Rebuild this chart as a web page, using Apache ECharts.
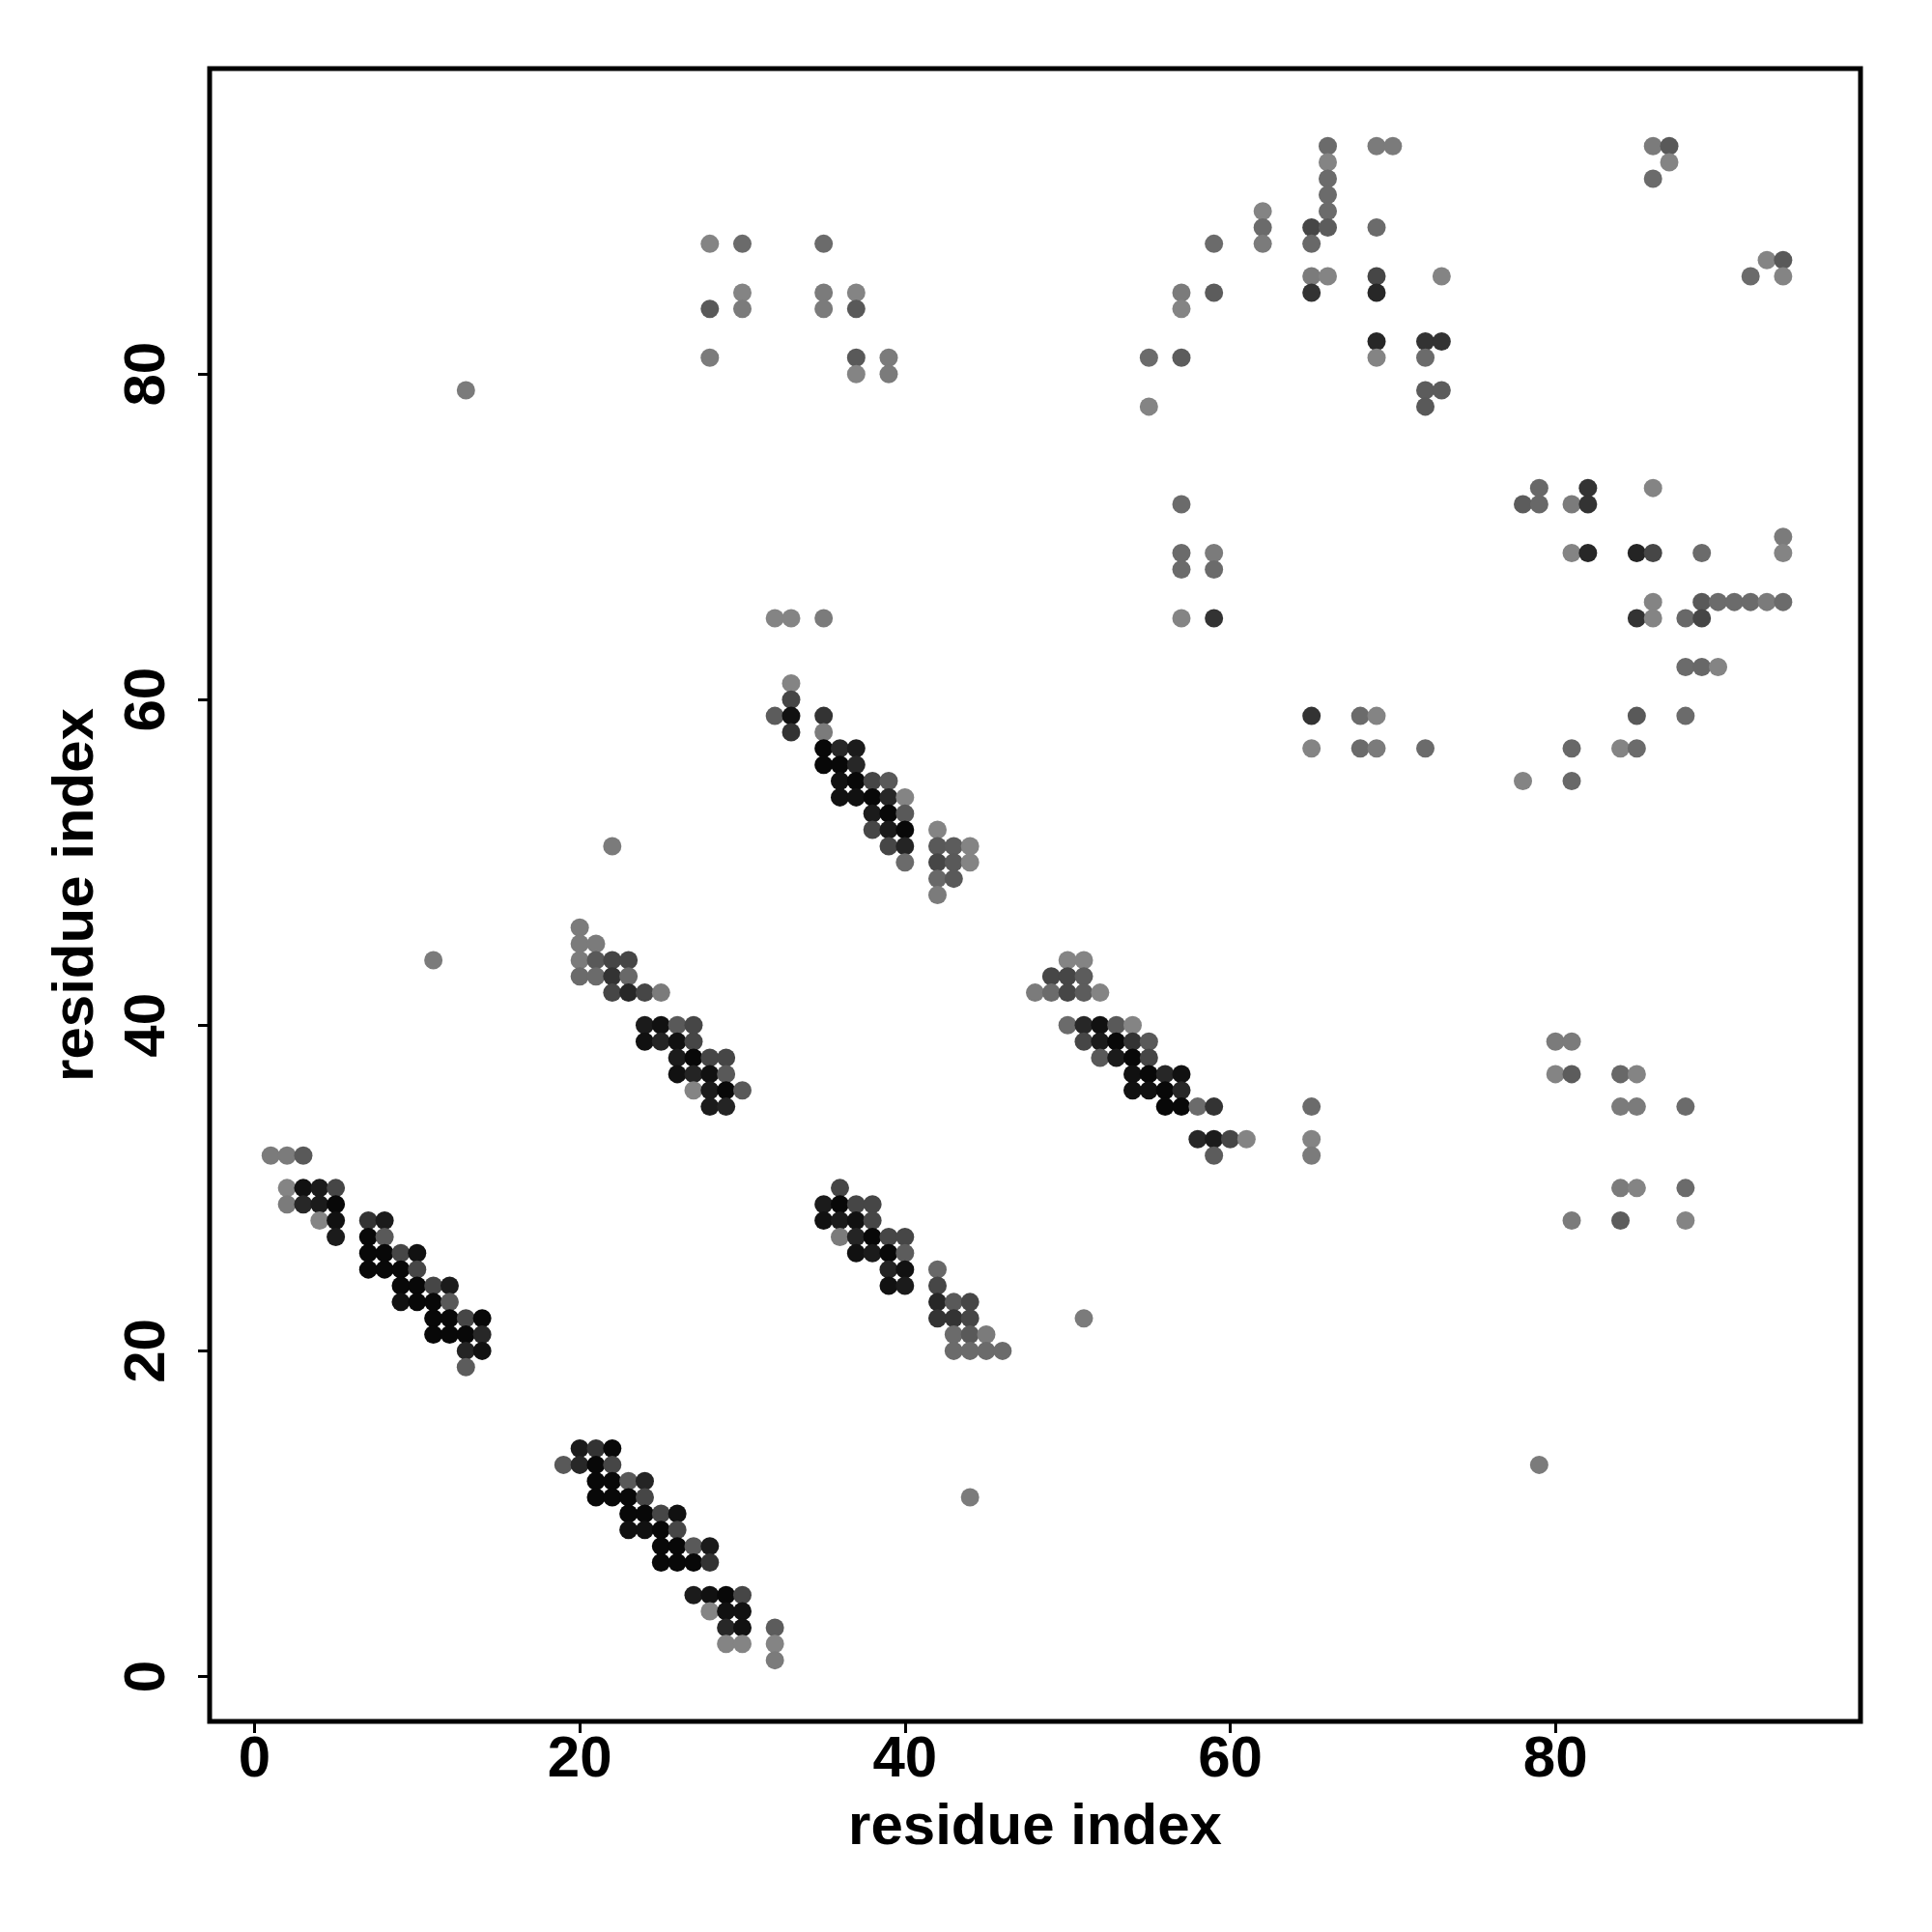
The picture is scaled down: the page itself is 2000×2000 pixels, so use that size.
<!DOCTYPE html>
<html>
<head>
<meta charset="utf-8">
<script src="https://cdn.jsdelivr.net/npm/echarts@6/dist/echarts.min.js"></script>
<style>
html,body{margin:0;padding:0;background:#fff;}
#chart{width:2000px;height:2000px;}
</style>
</head>
<body>
<div id="chart"></div>
<script>
// Contact map: [residue i, residue j, contact strength 1 (weak, light) .. 5 (strong, black)]
const strandPairA = [
  [1,32,1.3],[2,32,1.3],[3,32,2.4],
  [2,30,1],[3,30,4.7],[4,30,4.4],[5,30,3],
  [2,29,1.3],[3,29,4],[4,29,4.4],[5,29,5],
  [4,28,1],[5,28,4.7],[5,27,4.4],
  [7,28,3.6],[8,28,4.4],
  [7,27,5],[8,27,2.4],
  [7,26,5],[8,26,5],[9,26,3],[10,26,4.7],
  [7,25,5],[8,25,5],[9,25,5],[10,25,3],
  [9,24,5],[10,24,5],[11,24,3],[12,24,4.4],
  [9,23,4.7],[10,23,5],[11,23,5],[12,23,2.4],
  [11,22,5],[12,22,5],[13,22,3],[14,22,5],
  [11,21,5],[12,21,5],[13,21,5],[14,21,4],
  [13,20,4.1],[14,20,4.7],
  [13,19,2.3]
];
const strandPairB = [
  [20,14,4.4],[21,14,3.6],[22,14,5],
  [19,13,2.4],[20,13,4],[21,13,5],[22,13,3],
  [21,12,5],[22,12,5],[23,12,2.4],[24,12,4.1],
  [21,11,5],[22,11,5],[23,11,5],[24,11,3],
  [23,10,5],[24,10,5],[25,10,3],[26,10,4.7],
  [23,9,4.7],[24,9,4.7],[25,9,5],[26,9,3],
  [25,8,5],[26,8,5],[27,8,2.4],[28,8,4.4],
  [25,7,5],[26,7,5],[27,7,5],[28,7,3.6],
  [27,5,4.4],[28,5,4.7],[29,5,5],[30,5,3],
  [28,4,1],[29,4,4.7],[30,4,4.7],
  [29,3,4],[30,3,4.7],[32,3,2.3],
  [29,2,1],[30,2,1],[32,2,1],
  [32,1,1.3]
];
const strandPairC = [
  [20,46,1.3],
  [20,45,1.3],[21,45,1.3],
  [20,44,1.3],[21,44,2.4],[22,44,3],[23,44,3],
  [20,43,1.8],[21,43,1.8],[22,43,3.6],[23,43,1.9],
  [22,42,3],[23,42,4],[24,42,3],[25,42,1.3],
  [24,40,4.4],[25,40,4.7],[26,40,2.4],[27,40,3],
  [24,39,4.7],[25,39,4.1],[26,39,4.7],[27,39,3],
  [26,38,4.4],[27,38,5],[28,38,3],[29,38,3],
  [26,37,4.7],[27,37,4.1],[28,37,4.7],[29,37,2.4],
  [27,36,1],[28,36,4.4],[29,36,5],[30,36,2.4],
  [28,35,4.4],[29,35,4.1]
];
const strandPairD = [
  [32,65,1],[33,65,1],[35,65,1.3],
  [33,61,1],[33,60,3],
  [32,59,2.3],[33,59,4.7],[35,59,3.6],
  [33,58,3.6],[35,58,1.3],
  [35,57,5],[36,57,4],[37,57,4.4],
  [35,56,5],[36,56,5],[37,56,4],
  [36,55,4.7],[37,55,5],[38,55,3],[39,55,2.4],
  [36,54,4.7],[37,54,4.7],[38,54,5],[39,54,4],[40,54,1],
  [38,53,4.4],[39,53,5],[40,53,2.4],
  [38,52,3],[39,52,4.4],[40,52,5],[42,52,1],
  [39,51,3],[40,51,4.1],[42,51,2.4],[43,51,2.3],[44,51,1],
  [40,50,1.8],[42,50,3],[43,50,2.4],[44,50,1],
  [42,49,1.9],[43,49,2.4],
  [42,48,1.3]
];
const strandPairE = [
  [36,30,3],
  [35,29,4.4],[36,29,5],[37,29,3],[38,29,3],
  [35,28,4.7],[36,28,4.4],[37,28,4.7],[38,28,3],
  [36,27,1.3],[37,27,4.1],[38,27,5],[39,27,3],[40,27,3],
  [37,26,4.7],[38,26,4.4],[39,26,5],[40,26,2.3],
  [39,25,4.1],[40,25,4.7],
  [39,24,4.7],[40,24,4.4],
  [42,25,1.9],[42,24,3],
  [42,23,4],[43,23,2.4],[44,23,3],
  [42,22,3.6],[43,22,3.6],[44,22,3],
  [43,21,1.8],[44,21,2.4],[45,21,1.3],
  [43,20,1.8],[44,20,1.8],[45,20,1.8],[46,20,1.8]
];
const strandPairF = [
  [50,44,1],[51,44,1],
  [49,43,3],[50,43,3],[51,43,2.3],
  [48,42,1.3],[49,42,1.8],[50,42,3],[51,42,2.3],[52,42,1],
  [50,40,1.8],[51,40,4],[52,40,4.7],[53,40,2.4],[54,40,1],
  [51,39,3],[52,39,4.4],[53,39,5],[54,39,3.6],[55,39,2.4],
  [52,38,2.4],[53,38,4.4],[54,38,5],[55,38,3],
  [54,37,4.7],[55,37,5],[56,37,4],[57,37,4.7],
  [54,36,4.7],[55,36,4.7],[56,36,5],[57,36,4],
  [56,35,5],[57,35,5],[58,35,1.8],[59,35,3.6],
  [58,33,4],[59,33,4.4],[60,33,3],[61,33,1],
  [59,32,2.3]
];
const upperLeftContacts = [
  [28,88,1],[30,88,1.8],[35,88,1.8],
  [30,85,1],[35,85,1.3],[37,85,1],
  [28,84,2.4],[30,84,1.3],[35,84,1.3],[37,84,2.4],
  [28,81,1.3],[37,81,2.4],[39,81,1.3],
  [37,80,1],[39,80,1.3],
  [13,79,1.3]
];
const upperMiddleContacts = [
  [66,94,1.8],[69,94,1.3],[70,94,1.3],
  [66,93,1],[66,92,1.8],[66,91,1.8],
  [62,90,1],[66,90,1.8],
  [62,89,1.8],[65,89,3],[66,89,2.3],[69,89,1.8],
  [59,88,1.8],[62,88,1.3],[65,88,1.9],
  [65,86,1.3],[66,86,1],[69,86,3],[73,86,1],
  [57,85,1.3],[59,85,2.3],[65,85,3.6],[69,85,4],
  [57,84,1],
  [69,82,4],[72,82,3.6],[73,82,3.6],
  [55,81,1.8],[57,81,2.3],[69,81,1],[72,81,1.8],
  [72,79,2.3],[73,79,2.3],
  [55,78,1],[72,78,2.4]
];
const upperRightContacts = [
  [86,94,1.3],[87,94,2.4],[87,93,1],[86,92,1.8],
  [93,87,1],[94,87,2.4],[92,86,1.8],[94,86,1]
];
const middleContacts = [
  [57,72,1.8],
  [57,69,1.8],[59,69,1.3],
  [57,68,1.8],[59,68,1.8],
  [57,65,1],[59,65,3.6],
  [65,59,3.6],[68,59,1.8],[69,59,1],
  [65,57,1],[68,57,1.8],[69,57,1.3],[72,57,1.8]
];
const rightContacts = [
  [79,73,1.9],[82,73,3.6],[86,73,1],
  [78,72,2.3],[79,72,1.9],[81,72,1.3],[82,72,3.6],
  [94,70,1.3],
  [81,69,1],[82,69,4],[85,69,4.1],[86,69,3],[89,69,1.8],[94,69,1],
  [86,66,1],[89,66,2.4],[90,66,1.8],[91,66,1.8],[92,66,1.8],[93,66,1.3],[94,66,1.8],
  [85,65,3.6],[86,65,1],[88,65,1.9],[89,65,3],
  [88,62,1.8],[89,62,1.9],[90,62,1],
  [85,59,2.4],[88,59,1.8],
  [81,57,1.9],[84,57,1],[85,57,1.8],
  [78,55,1],[81,55,1.9]
];
const lowerRightContacts = [
  [80,39,1.3],[81,39,1.3],
  [80,37,1],[81,37,2.3],[84,37,1.9],[85,37,1],
  [65,35,1.8],[84,35,1.3],[85,35,1.3],[88,35,1.8],
  [65,33,1],[65,32,1.3],
  [84,30,1.3],[85,30,1],[88,30,1.8],
  [81,28,1.3],[84,28,2.3],[88,28,1]
];
const isolatedContacts = [
  [11,44,1.3],[22,51,1.3],[51,22,1.3],[44,11,1.3],[79,13,1.3]
];
const tickValues = [0, 20, 40, 60, 80];
const axisTitle = 'residue index';
const axisMin = -2.76, axisMax = 98.76;

const allContacts = [].concat(strandPairA, strandPairB, strandPairC, strandPairD,
  strandPairE, strandPairF, upperLeftContacts, upperMiddleContacts,
  upperRightContacts, middleContacts, rightContacts, lowerRightContacts, isolatedContacts);

const font = {fontFamily: 'Liberation Sans, Arial, Helvetica, sans-serif', fontWeight: 'bold', fontSize: 60, color: '#000'};

const chart = echarts.init(document.getElementById('chart'), null, {renderer: 'canvas'});
chart.setOption({
  animation: false,
  backgroundColor: '#fff',
  grid: {left: 217, right: 74, top: 71, bottom: 218, show: true, borderColor: '#000', borderWidth: 5, backgroundColor: 'transparent'},
  xAxis: {
    type: 'value', min: axisMin, max: axisMax,
    name: axisTitle, nameLocation: 'middle', nameGap: 80,
    nameTextStyle: font,
    axisLine: {show: false, onZero: false},
    splitLine: {show: false},
    axisTick: {show: true, inside: false, length: 12, lineStyle: {color: '#000', width: 3}, customValues: tickValues},
    axisLabel: Object.assign({margin: 10, customValues: tickValues, showMinLabel: true, showMaxLabel: true}, font)
  },
  yAxis: {
    type: 'value', min: axisMin, max: axisMax,
    name: axisTitle, nameLocation: 'middle', nameGap: 108,
    nameTextStyle: font,
    axisLine: {show: false, onZero: false},
    splitLine: {show: false},
    axisTick: {show: true, inside: false, length: 12, lineStyle: {color: '#000', width: 3}, customValues: tickValues},
    axisLabel: Object.assign({margin: 34, rotate: 90, customValues: tickValues}, font)
  },
  visualMap: {
    show: false, type: 'continuous', dimension: 2, min: 1, max: 5,
    inRange: {color: ['#848484', '#080808']}
  },
  series: [{
    type: 'scatter',
    data: allContacts,
    symbol: 'circle',
    symbolSize: 19,
    itemStyle: {opacity: 1},
    emphasis: {disabled: true}
  }]
});
</script>
</body>
</html>
